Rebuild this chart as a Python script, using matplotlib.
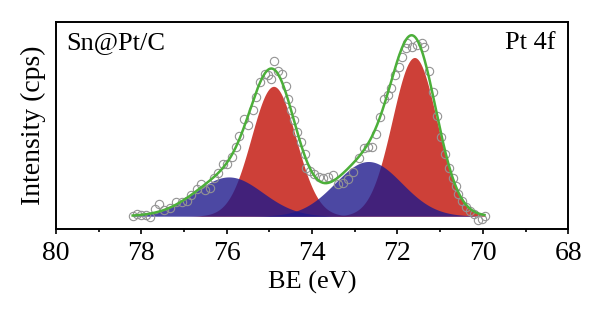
import numpy as np
import matplotlib.pyplot as plt

plt.rcParams['font.family'] = ['Liberation Serif', 'DejaVu Serif']

# measured spectrum (BE in eV, intensity in arbitrary counts above baseline)
be = [78.20, 78.11, 78.00, 77.89, 77.79, 77.68, 77.59, 77.46, 77.32, 77.19,
      77.05, 76.92, 76.83, 76.69, 76.60, 76.51, 76.40, 76.29, 76.20, 76.09,
      76.00, 75.88, 75.79, 75.70, 75.59, 75.50, 75.39, 75.32, 75.21, 75.10,
      75.03, 74.95, 74.89, 74.80, 74.71, 74.62, 74.56, 74.49, 74.41, 74.35,
      74.26, 74.17, 74.13, 74.04, 73.95, 73.84, 73.75, 73.63, 73.50, 73.39,
      73.27, 73.15, 73.05, 72.91, 72.79, 72.68, 72.59, 72.50, 72.41, 72.32,
      72.23, 72.14, 72.05, 71.96, 71.89, 71.80, 71.77, 71.65, 71.53, 71.42,
      71.38, 71.26, 71.17, 71.08, 70.97, 70.88, 70.79, 70.70, 70.63, 70.57,
      70.48, 70.39, 70.30, 70.21, 70.12, 70.03, 69.96]
counts = [0, 7, 5, 3, -3, 20, 37, 17, 23, 41,
          41, 45, 62, 80, 95, 79, 83, 115, 130, 155,
          155, 175, 207, 240, 290, 273, 315, 355, 400, 425,
          420, 410, 463, 432, 425, 387, 350, 315, 287, 250,
          220, 185, 145, 135, 125, 117, 115, 118, 123, 97,
          100, 110, 133, 173, 203, 205, 205, 245, 297, 349,
          360, 383, 420, 445, 475, 500, 515, 505, 510, 515,
          505, 433, 370, 300, 235, 185, 145, 115, 90, 67,
          45, 27, 15, 7, -10, -7, 0]

# fitted components: Pt(0) doublet (red) and Pt(II) doublet (blue)
red_center = [74.90, 71.60]
red_height = [387, 473]
red_sigma = [0.52, 0.52]
blue_center = [75.95, 72.68]
blue_height = [117, 163]
blue_sigma = [0.79, 0.78]

x = np.linspace(78.2, 69.96, 600)


def gauss(c, h, s):
    return h * np.exp(-(x - c) ** 2 / (2 * s ** 2))


reds = [gauss(c, h, s) for c, h, s in zip(red_center, red_height, red_sigma)]
blues = [gauss(c, h, s) for c, h, s in zip(blue_center, blue_height, blue_sigma)]
envelope = sum(reds) + sum(blues)

fig = plt.figure(figsize=(6, 3.22), dpi=100)
ax = fig.add_axes([0.093, 0.289, 0.854, 0.643])

for r in reds:
    ax.fill_between(x, 0, r, color='#cd4038', lw=0)
for b in blues:
    ax.fill_between(x, 0, b, color='#1f1a8c', alpha=0.8, lw=0)

ax.plot(be, counts, 'o', mfc='none', mec='#939393', ms=6, mew=0.8)
ax.plot(x, envelope, color='#4caf3a', lw=1.8)

ax.set_xlim(80, 68)
ax.set_ylim(-38, 579)
ax.set_xticks(np.arange(68, 81, 2))
ax.set_xticks(np.arange(68, 81, 1), minor=True)
ax.set_yticks([])
ax.tick_params(axis='x', which='major', direction='out', length=3.5, width=1.2,
               labelsize=20, pad=5)
ax.tick_params(axis='x', which='minor', direction='out', length=2.5, width=1.2)
for sp in ax.spines.values():
    sp.set_linewidth(1.4)

ax.set_xlabel('BE (eV)', fontsize=19, labelpad=4)
ax.set_ylabel('Intensity (cps)', fontsize=20, labelpad=7)

ax.text(0.02, 0.95, 'Sn@Pt/C', transform=ax.transAxes, fontsize=19,
        ha='left', va='top')
ax.text(0.975, 0.95, 'Pt 4f', transform=ax.transAxes, fontsize=19,
        ha='right', va='top')

fig.savefig('out.png', dpi=100)
